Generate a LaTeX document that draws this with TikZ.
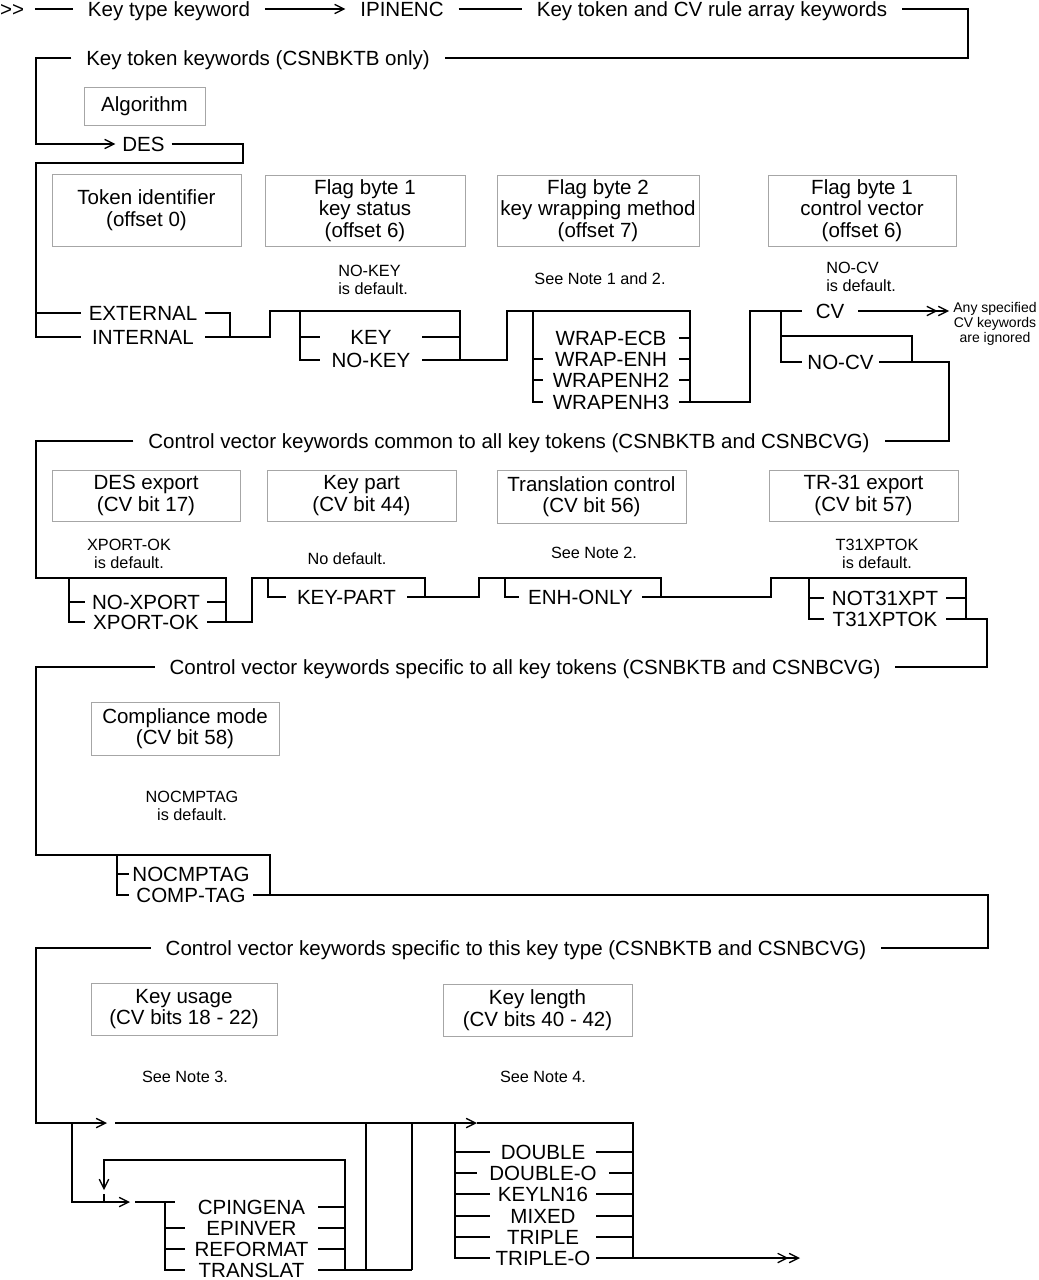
\documentclass[tikz,border=0pt]{standalone}
\usepackage{fontspec}
\setmainfont{Liberation Sans}
\usetikzlibrary{positioning}
\usetikzlibrary{arrows.meta}
\tikzset{
	rail/.style={line width=1.4pt},
	kw/.style={font=\fontsize{15.4}{16.5}\selectfont, inner sep=0pt, text height=11pt, text depth=0pt},
	hd/.style={kw, inner xsep=11pt},
	fieldbox/.style={draw=black!35, line width=0.7pt, align=center, inner sep=0pt, font=\fontsize{15.4}{16.2}\selectfont},
	note/.style={font=\fontsize{12.2}{13.5}\selectfont, align=center, inner sep=0pt},
	aside/.style={font=\fontsize{10.5}{11.3}\selectfont, align=center, inner xsep=3pt, inner ysep=0pt},
	chev/.style={-{Straight Barb[length=7pt,width=7pt,line width=1pt]}},
	dchev/.style={-{Straight Barb[length=7pt,width=7pt,line width=1pt] Straight Barb[length=7pt,width=7pt,line width=1pt]}}
}

\begin{document}
\begin{tikzpicture}[x=0.75pt, y=-0.75pt]
				\useasboundingbox (0,0) rectangle (1038,1280);
				\fill[white] (0,0) rectangle (1038,1280);
				% Key type and key token keywords
				\node[hd, inner xsep=8pt] (start) at (12,9) {>{}>};
				\node[hd] (keytype) at (169,9) {Key type keyword};
				\node[hd] (ipinenc) at (402,9) {IPINENC};
				\node[hd] (ktcv) at (712,9) {Key token and CV rule array keywords};
				\node[hd] (ktkw) at (258,58) {Key token keywords (CSNBKTB only)};
				\node[fieldbox, minimum width=90.75pt, minimum height=28.5pt] (algo) at (144.5,106) {Algorithm};
				\node[kw, inner xsep=5pt] (des) at (143.5,144) {DES};
				
				\draw[rail] (start.east) -- (keytype.west);
				\draw[rail, chev] (keytype.east) -- (ipinenc.west);
				\draw[rail] (ipinenc.east) -- (ktcv.west);
				\draw[rail] (ktcv.east) -| (968,33) |- (ktkw.east);
				\draw[rail, chev] (ktkw.west) -| (36,100) |- (des.west);
				
				% Token identifier and flag bytes
				\node[fieldbox, minimum width=141.75pt, minimum height=54pt] (tokid) at (146.5,210) {Token identifier\\(offset 0)};
				\node[fieldbox, minimum width=150pt, minimum height=53.25pt] (flagone) at (365,210.5) {Flag byte 1\\key status\\(offset 6)};
				\node[fieldbox, minimum width=151.5pt, minimum height=53.25pt] (flagtwo) at (598,210.5) {Flag byte 2\\key wrapping method\\(offset 7)};
				\node[fieldbox, minimum width=141pt, minimum height=53.25pt] (flagcv) at (862,210.5) {Flag byte 1\\control vector\\(offset 6)};
				\node[note, align=left, anchor=west] (nokeynote) at (338,280) {NO-KEY\\is default.};
				\node[note] (notetwelve) at (600,279) {See Note 1 and 2.};
				\node[note, align=left, anchor=west] (nocvnote) at (826,277) {NO-CV\\is default.};
				
				\node[kw, minimum width=93pt] (ext) at (143,313) {EXTERNAL};
				\node[kw, minimum width=93pt] (int) at (143,337) {INTERNAL};
				\node[kw, minimum width=76.5pt] (key) at (371,337) {KEY};
				\node[kw, minimum width=76.5pt] (nokey) at (371,360) {NO-KEY};
				\node[kw, minimum width=102pt] (wrapecb) at (611,338) {WRAP-ECB};
				\node[kw, minimum width=102pt] (wrapenh) at (611,359) {WRAP-ENH};
				\node[kw, minimum width=102pt] (wrapenhtwo) at (611,380) {WRAPENH2};
				\node[kw, minimum width=102pt] (wrapenhthree) at (611,402) {WRAPENH3};
				\node[kw, minimum width=42pt] (cv) at (830,311) {CV};
				\node[kw, minimum width=57.75pt] (nocv) at (840.5,362) {NO-CV};
				\node[aside] (ignored) at (995,324) {Any specified\\CV keywords\\are ignored};
				
				\draw[rail] (des.east) -| (243,163) -| (36,313) -- (ext.west);
				\draw[rail] (36,313) |- (int.west);
				\draw[rail] (ext.east) -| (230,337);
				\draw[rail] (int.east) -| (270,311) -| (460,360);
				\draw[rail] (300,311) |- (nokey.west);
				\draw[rail] (300,337) -- (key.west);
				\draw[rail] (key.east) -- (460,337);
				\draw[rail] (nokey.east) -| (507,311) -| (690,402);
				\draw[rail] (533,311) |- (wrapenhthree.west);
				\draw[rail] (533,359) -- (wrapenh.west);
				\draw[rail] (533,380) -- (wrapenhtwo.west);
				\draw[rail] (wrapecb.east) -- (690,338);
				\draw[rail] (wrapenh.east) -- (690,359);
				\draw[rail] (wrapenhtwo.east) -- (690,380);
				\draw[rail] (wrapenhthree.east) -| (750,311) -- (cv.west);
				\draw[rail] (781,311) |- (nocv.west);
				\draw[rail] (781,336) -| (912,362);
				\draw[rail, dchev] (cv.east) -- (cv.east -| ignored.west);
				
				% Control vector keywords common to all key tokens
				\node[hd] (cvcom) at (509,441) {Control vector keywords common to all key tokens (CSNBKTB and CSNBCVG)};
				\node[fieldbox, minimum width=141pt, minimum height=38.25pt] (desexp) at (146,495.5) {DES export\\(CV bit 17)};
				\node[fieldbox, minimum width=141.75pt, minimum height=38.25pt] (keypartbox) at (361.5,495.5) {Key part\\(CV bit 44)};
				\node[fieldbox, minimum width=141.75pt, minimum height=39.75pt] (translbox) at (591.5,496.5) {Translation control\\(CV bit 56)};
				\node[fieldbox, minimum width=141.75pt, minimum height=38.25pt] (trbox) at (863.5,495.5) {TR-31 export\\(CV bit 57)};
				\node[note] (xportnote) at (129,553.5) {XPORT-OK\\is default.};
				\node[note] (kpnote) at (347,559) {No default.};
				\node[note] (notetwo) at (594,553) {See Note 2.};
				\node[note] (tnote) at (877,553.5) {T31XPTOK\\is default.};
				
				\node[kw, minimum width=91.5pt] (noxport) at (146,602) {NO-XPORT};
				\node[kw, minimum width=91.5pt] (xportok) at (146,622) {XPORT-OK};
				\node[kw, minimum width=90.75pt] (keypart) at (346.5,597) {KEY-PART};
				\node[kw, minimum width=92.25pt] (enhonly) at (580.5,597) {ENH-ONLY};
				\node[kw, minimum width=91.5pt] (notxpt) at (885,598) {NOT31XPT};
				\node[kw, minimum width=91.5pt] (xptok) at (885,619) {T31XPTOK};
				
				\draw[rail] (nocv.east) -| (949,441) -- (cvcom.east);
				\draw[rail] (cvcom.west) -| (36,578) -| (226,622);
				\draw[rail] (69,578) |- (xportok.west);
				\draw[rail] (69,602) -- (noxport.west);
				\draw[rail] (noxport.east) -- (226,602);
				\draw[rail] (xportok.east) -| (252,578) -| (425,597);
				\draw[rail] (268,578) |- (keypart.west);
				\draw[rail] (keypart.east) -| (479,578) -| (661,597);
				\draw[rail] (505,578) |- (enhonly.west);
				\draw[rail] (enhonly.east) -| (771,578) -| (966,619);
				\draw[rail] (809,578) |- (xptok.west);
				\draw[rail] (809,598) -- (notxpt.west);
				\draw[rail] (notxpt.east) -- (966,598);
				
				% Control vector keywords specific to all key tokens
				\node[hd] (cvall) at (525,667) {Control vector keywords specific to all key tokens (CSNBKTB and CSNBCVG)};
				\node[fieldbox, minimum width=141pt, minimum height=39.75pt] (compbox) at (185,728.5) {Compliance mode\\(CV bit 58)};
				\node[note] (cmpnote) at (192,806) {NOCMPTAG\\is default.};
				\node[kw, minimum width=93pt] (nocmptag) at (191,874) {NOCMPTAG};
				\node[kw, minimum width=93pt] (comptag) at (191,895) {COMP-TAG};
				
				\draw[rail] (xptok.east) -| (987,667) -- (cvall.east);
				\draw[rail] (cvall.west) -| (36,855) -| (270,895);
				\draw[rail] (117,855) |- (comptag.west);
				\draw[rail] (117,874) -- (nocmptag.west);
				
				% Control vector keywords specific to this key type
				\node[hd] (cvthis) at (516,948) {Control vector keywords specific to this key type (CSNBKTB and CSNBCVG)};
				\node[fieldbox, minimum width=139.5pt, minimum height=39pt] (usagebox) at (184,1009) {Key usage\\(CV bits 18 - 22)};
				\node[fieldbox, minimum width=141.75pt, minimum height=39pt] (lengthbox) at (537.5,1010) {Key length\\(CV bits 40 - 42)};
				\node[note] (notethree) at (185,1077) {See Note 3.};
				\node[note] (notefour) at (543,1077) {See Note 4.};
				
				\node[kw, minimum width=99.75pt] (cpingena) at (251.5,1207) {CPINGENA};
				\node[kw, minimum width=99.75pt] (epinver) at (251.5,1228) {EPINVER};
				\node[kw, minimum width=99.75pt] (reformat) at (251.5,1249) {REFORMAT};
				\node[kw, minimum width=99.75pt] (translat) at (251.5,1270) {TRANSLAT};
				\node[kw, minimum width=79.5pt] (double) at (543,1152) {DOUBLE};
				\node[kw, inner xsep=9pt] (doubleo) at (543,1173) {DOUBLE-O};
				\node[kw, minimum width=79.5pt] (keyln) at (543,1194) {KEYLN16};
				\node[kw, minimum width=79.5pt] (mixed) at (543,1216) {MIXED};
				\node[kw, minimum width=79.5pt] (triple) at (543,1237) {TRIPLE};
				\node[kw, minimum width=79.5pt] (tripleo) at (543,1258) {TRIPLE-O};
				\coordinate (gtone) at (107,1123);
				\coordinate (gttwo) at (130,1202);
				\coordinate (vtip) at (104,1190);
				\coordinate (gtthree) at (477,1123);
				\coordinate (finish) at (800,1258);
				
				\draw[rail] (comptag.east) -| (988,948) -- (cvthis.east);
				\draw[rail, chev] (cvthis.west) -| (36,1123) -- (gtone);
				\draw[rail, chev] (72,1123) |- (gttwo);
				\draw[rail] ([xshift=4pt]gttwo) -- (175,1202);
				\draw[rail] (165,1202) |- (translat.west);
				\draw[rail] (165,1228) -- (epinver.west);
				\draw[rail] (165,1249) -- (reformat.west);
				\draw[rail] (cpingena.east) -- (345,1207);
				\draw[rail] (epinver.east) -- (345,1228);
				\draw[rail] (reformat.east) -- (345,1249);
				\draw[rail] (translat.east) -- (412,1270);
				\draw[rail, chev] (345,1270) |- (104,1160) -- (vtip);
				\draw[rail] ([yshift=-3pt]vtip) -- (104,1202);
				\draw[rail, chev] ([xshift=6pt]gtone) -- (gtthree);
				\draw[rail] (gtthree) -| (633,1258);
				\draw[rail] (366,1123) -- (366,1270);
				\draw[rail] (412,1123) -- (412,1270);
				\draw[rail] (455,1123) |- (tripleo.west);
				\draw[rail] (455,1152) -- (double.west);
				\draw[rail] (455,1173) -- (doubleo.west);
				\draw[rail] (455,1194) -- (keyln.west);
				\draw[rail] (455,1216) -- (mixed.west);
				\draw[rail] (455,1237) -- (triple.west);
				\draw[rail] (double.east) -- (633,1152);
				\draw[rail] (doubleo.east) -- (633,1173);
				\draw[rail] (keyln.east) -- (633,1194);
				\draw[rail] (mixed.east) -- (633,1216);
				\draw[rail] (triple.east) -- (633,1237);
				\draw[rail, dchev] (tripleo.east) -- (finish);
				
			\end{tikzpicture}
\end{document}
